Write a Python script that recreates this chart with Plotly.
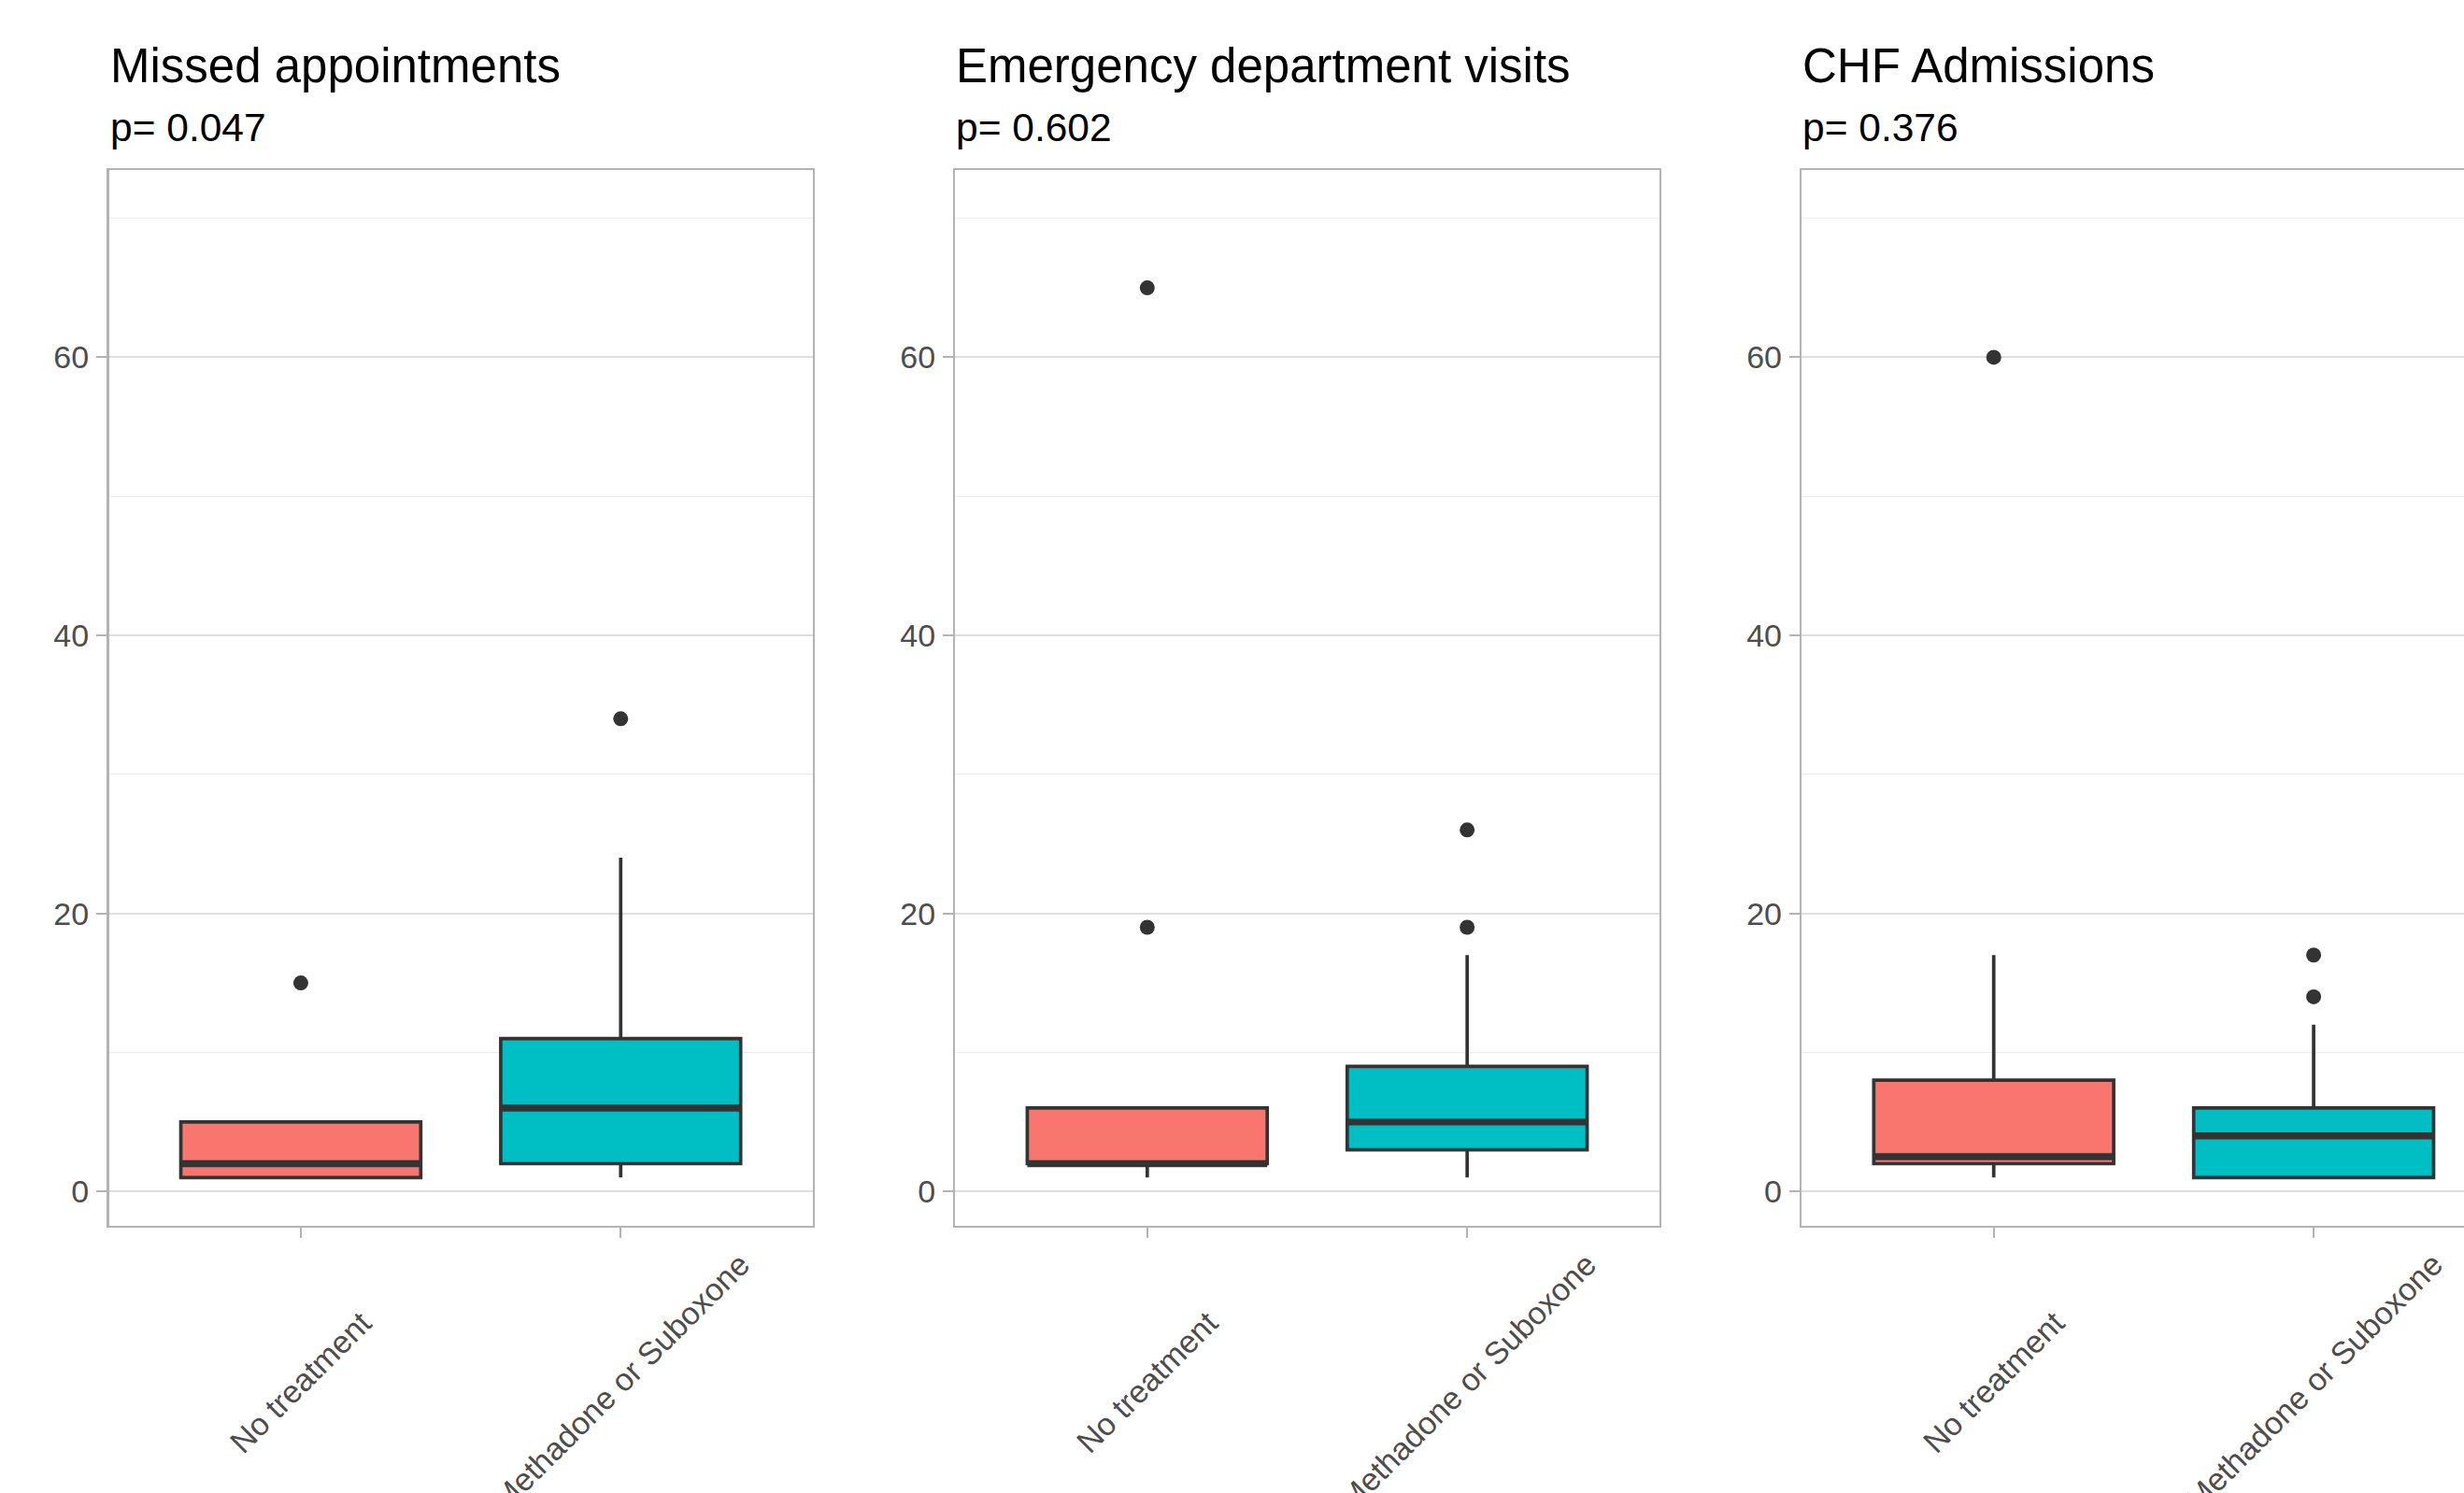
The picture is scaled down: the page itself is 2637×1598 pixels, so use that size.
import plotly.graph_objects as go

# ---------------- data ----------------
panels = ["Missed appointments", "Emergency department visits", "CHF Admissions"]
p_values = ["0.047", "0.602", "0.376"]
categories = ["No treatment", "Methadone or Suboxone"]
cat_pos = [1, 2]
fill_colors = ["#F8766D", "#00BFC4"]

missed_q1 = [1, 2]
missed_median = [2, 6]
missed_q3 = [5, 11]
missed_low = [1, 1]
missed_high = [5, 24]
missed_outliers = [[15], [34]]

ed_q1 = [2, 3]
ed_median = [2, 5]
ed_q3 = [6, 9]
ed_low = [1, 1]
ed_high = [6, 17]
ed_outliers = [[19, 65], [19, 26]]

chf_q1 = [2, 1]
chf_median = [2.5, 4]
chf_q3 = [8, 6]
chf_low = [1, 1]
chf_high = [17, 12]
chf_outliers = [[60], [14, 17]]

y_major = [0, 20, 40, 60]
y_minor = [10, 30, 50, 70]

stats = [
    (missed_q1, missed_median, missed_q3, missed_low, missed_high, missed_outliers),
    (ed_q1, ed_median, ed_q3, ed_low, ed_high, ed_outliers),
    (chf_q1, chf_median, chf_q3, chf_low, chf_high, chf_outliers),
]

# ---------------- layout geometry ----------------
W, H = 2637, 1598
panel_left_px = [116.5, 1022.4, 1928.3]
panel_w_px = 753.2
panel_top_px, panel_bot_px = 182.3, 1311.7
x_lo, x_hi = 0.4, 2.6
px_per_unit = panel_w_px / (x_hi - x_lo)
y_range = [-2.45, 73.45]
box_w = 0.75

FONT = "Liberation Sans, Arial, Helvetica, sans-serif"
LINE = "#333333"
BORDER = "#B3B3B3"
GRID = "#DEDEDE"
GRID_MINOR = "#EBEBEB"
TICKTXT = "#4D4D4D"

fig = go.Figure()

for i, (q1, med, q3, lo, hi, outs) in enumerate(stats):
    xa = "x" if i == 0 else f"x{i+1}"
    ya = "y" if i == 0 else f"y{i+1}"
    for j in range(2):
        fig.add_trace(go.Box(
            x=[cat_pos[j]], q1=[q1[j]], median=[med[j]], q3=[q3[j]],
            lowerfence=[lo[j]], upperfence=[hi[j]],
            width=box_w, whiskerwidth=0, boxpoints=False,
            fillcolor=fill_colors[j], line=dict(color=LINE, width=3.7),
            xaxis=xa, yaxis=ya, showlegend=False, hoverinfo="skip",
        ))
        # thick median (ggplot fatten = 2)
        fig.add_trace(go.Scatter(
            x=[cat_pos[j] - box_w / 2, cat_pos[j] + box_w / 2], y=[med[j], med[j]],
            mode="lines", line=dict(color=LINE, width=7.4),
            xaxis=xa, yaxis=ya, showlegend=False, hoverinfo="skip",
        ))
        fig.add_trace(go.Scatter(
            x=[cat_pos[j]] * len(outs[j]), y=outs[j], mode="markers",
            marker=dict(color=LINE, size=16, line=dict(width=0)),
            xaxis=xa, yaxis=ya, showlegend=False, hoverinfo="skip",
        ))

layout = dict(
    width=W, height=H,
    margin=dict(l=0, r=0, t=0, b=0),
    paper_bgcolor="white", plot_bgcolor="white",
    boxmode="overlay",
    font=dict(family=FONT, color=TICKTXT),
)

y_dom = [1 - panel_bot_px / H, 1 - panel_top_px / H]
annotations = []
for i in range(3):
    suffix = "" if i == 0 else str(i + 1)
    left = panel_left_px[i] / W
    right_px = min(panel_left_px[i] + panel_w_px, W)
    right = right_px / W
    xr = [x_lo, x_lo + (right_px - panel_left_px[i]) / px_per_unit]
    layout["xaxis" + suffix] = dict(
        domain=[left, right], range=xr, anchor="y" + suffix,
        tickvals=cat_pos, showticklabels=False,
        ticks="outside", ticklen=11, tickwidth=2, tickcolor=BORDER,
        showgrid=False, zeroline=False,
        showline=True, linecolor=BORDER, linewidth=2.5, mirror=True,
        fixedrange=True,
    )
    layout["yaxis" + suffix] = dict(
        domain=y_dom, range=y_range, anchor="x" + suffix,
        tickvals=y_major, ticktext=[str(v) for v in y_major],
        ticks="outside", ticklen=11, tickwidth=2, tickcolor=BORDER,
        tickfont=dict(size=34, color=TICKTXT, family=FONT),
        ticklabelstandoff=1,
        showgrid=True, gridcolor=GRID, gridwidth=2,
        minor=dict(tickvals=y_minor, showgrid=True, gridcolor=GRID_MINOR, gridwidth=1, ticks=""),
        zeroline=False,
        showline=True, linecolor=BORDER, linewidth=2.5, mirror=(i < 2),
        fixedrange=True,
    )
    # title and subtitle
    annotations.append(dict(
        text=panels[i], xref="paper", yref="paper", x=left, y=1 - 70.6 / H,
        xanchor="left", yanchor="middle", showarrow=False, borderpad=0,
        font=dict(size=51, color="black", family=FONT),
    ))
    annotations.append(dict(
        text="p= " + p_values[i], xref="paper", yref="paper", x=left, y=1 - 136.0 / H,
        xanchor="left", yanchor="middle", showarrow=False, borderpad=0,
        font=dict(size=42.5, color="black", family=FONT),
    ))
    # rotated category labels (centred on the tick, like ggplot hjust=0.5)
    for j in range(2):
        annotations.append(dict(
            text=categories[j], xref="x" + suffix, yref="paper",
            x=cat_pos[j], y=1 - 1479 / H,
            xanchor="center", yanchor="middle", showarrow=False, borderpad=0,
            textangle=-45,
            font=dict(size=34, color=TICKTXT, family=FONT),
        ))

layout["annotations"] = annotations
fig.update_layout(**layout)

fig.write_html(
    "out.html",
    config={"displayModeBar": False, "staticPlot": True},
    post_script="document.body.style.margin='0';document.body.style.overflow='hidden';",
)
